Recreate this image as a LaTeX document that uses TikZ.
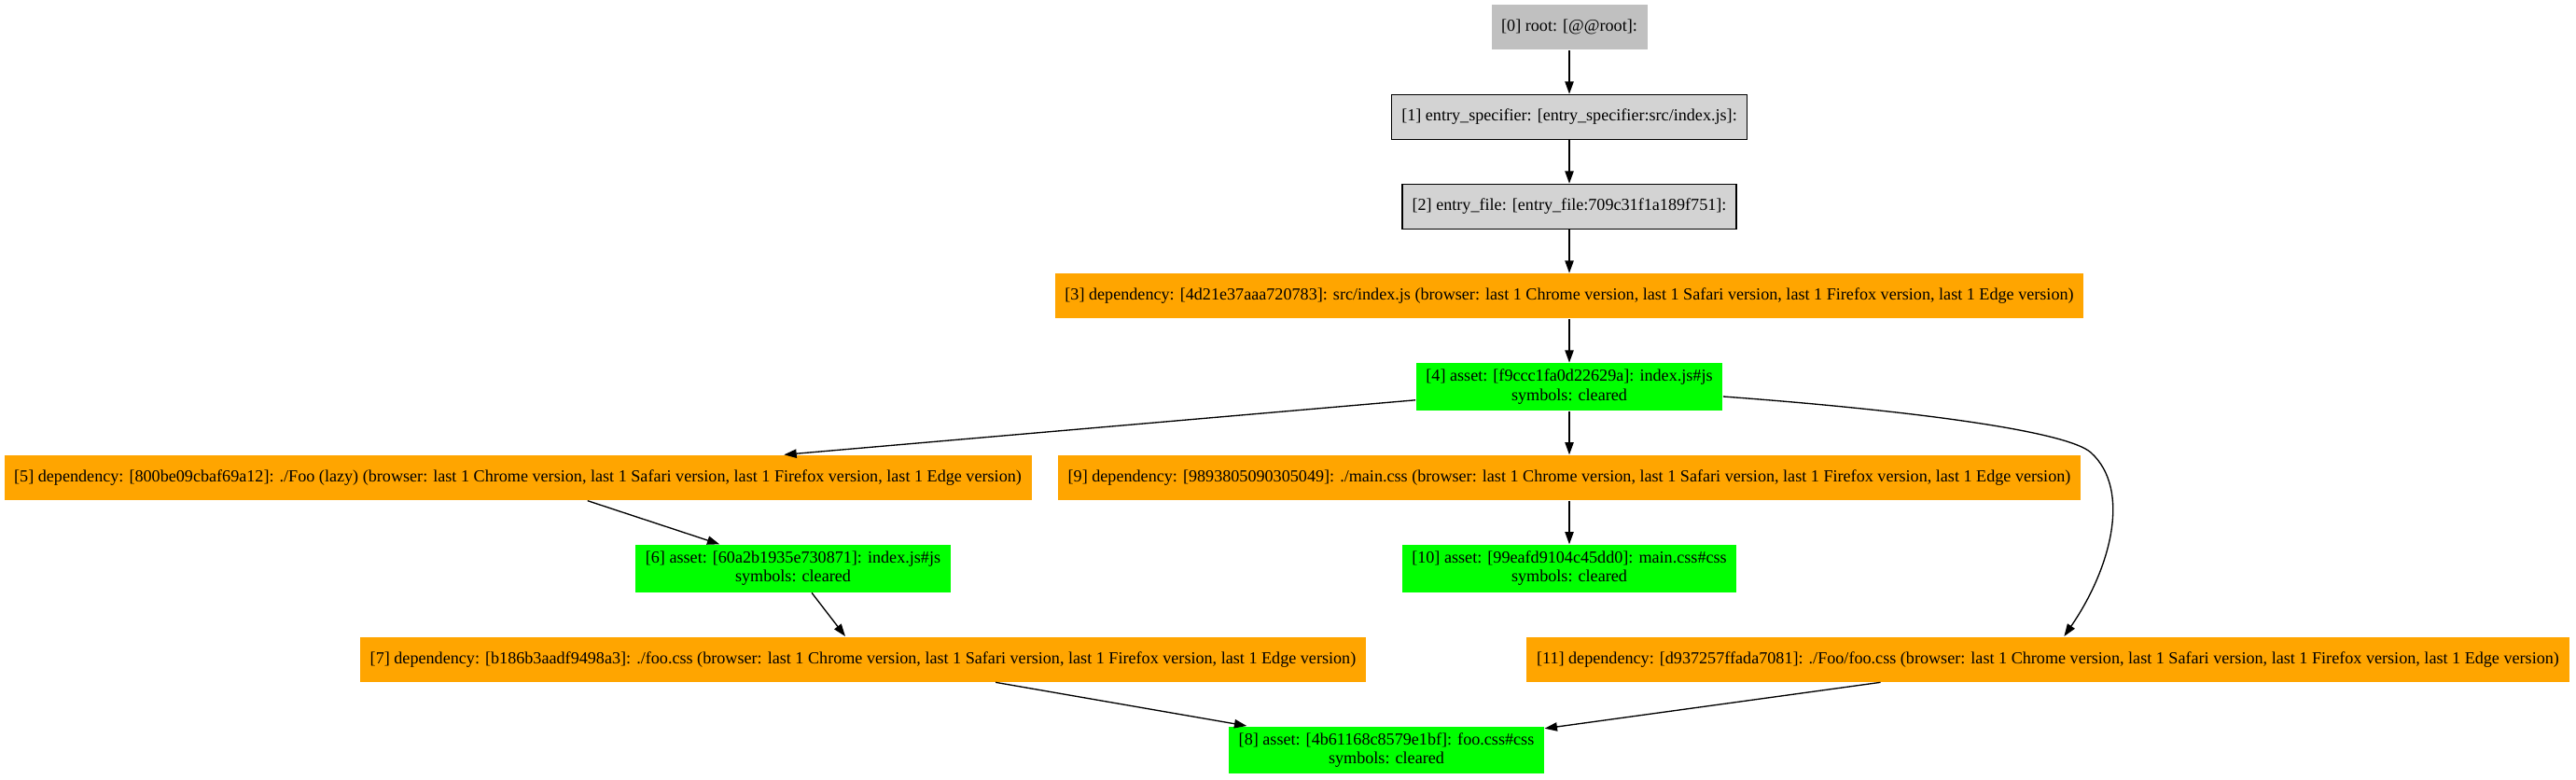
\documentclass[tikz,border=0pt]{standalone}
\usepackage{fontspec}
\setmainfont{Liberation Serif}
\usetikzlibrary{arrows.meta}
\definecolor{gvgray}{HTML}{C0C0C0}
\definecolor{gvlight}{HTML}{D3D3D3}
\definecolor{gvorange}{HTML}{FFA500}
\definecolor{gvgreen}{HTML}{00FF00}
\begin{document}
\begin{tikzpicture}[x=1pt,y=-1pt,
  gvnode/.style={inner xsep=8pt, inner ysep=0pt, minimum height=36pt, align=center,
    font=\fontsize{13.6}{15.2}\selectfont, line width=1pt},
  rootbox/.style={gvnode, fill=gvgray},
  entrybox/.style={gvnode, fill=gvlight, draw=black},
  depbox/.style={gvnode, fill=gvorange},
  assetbox/.style={gvnode, fill=gvgreen, minimum height=38pt},
  conn/.style={line width=1pt, -{Triangle[length=10pt,width=7pt]}}
]
\useasboundingbox (0,0) rectangle (2070.75,626.25);
\node[rootbox] (n0) at (1261.5,22) {[0] root: [@@root]:};
\node[entrybox] (n1) at (1261.5,94) {[1] entry\_specifier: [entry\_specifier:src/index.js]:};
\node[entrybox] (n2) at (1261.5,166) {[2] entry\_file: [entry\_file:709c31f1a189f751]:};
\node[depbox] (n3) at (1261.5,238) {[3] dependency: [4d21e37aaa720783]: src/index.js (browser: last 1 Chrome version, last 1 Safari version, last 1 Firefox version, last 1 Edge version)};
\node[assetbox] (n4) at (1261.5,311) {[4] asset: [f9ccc1fa0d22629a]: index.js\#js\\symbols: cleared};
\node[depbox] (n5) at (416.25,384) {[5] dependency: [800be09cbaf69a12]: ./Foo (lazy) (browser: last 1 Chrome version, last 1 Safari version, last 1 Firefox version, last 1 Edge version)};
\node[depbox] (n9) at (1261.5,384) {[9] dependency: [9893805090305049]: ./main.css (browser: last 1 Chrome version, last 1 Safari version, last 1 Firefox version, last 1 Edge version)};
\node[assetbox] (n6) at (637.5,457) {[6] asset: [60a2b1935e730871]: index.js\#js\\symbols: cleared};
\node[assetbox] (n10) at (1261.5,457) {[10] asset: [99eafd9104c45dd0]: main.css\#css\\symbols: cleared};
\node[depbox] (n7) at (693.75,530) {[7] dependency: [b186b3aadf9498a3]: ./foo.css (browser: last 1 Chrome version, last 1 Safari version, last 1 Firefox version, last 1 Edge version)};
\node[depbox] (n11) at (1646.25,530) {[11] dependency: [d937257ffada7081]: ./Foo/foo.css (browser: last 1 Chrome version, last 1 Safari version, last 1 Firefox version, last 1 Edge version)};
\node[assetbox] (n8) at (1114.5,603) {[8] asset: [4b61168c8579e1bf]: foo.css\#css\\symbols: cleared};
\coordinate (bend) at (1680.75,363.75);
\draw[conn] (n0) -- (n1);
\draw[conn] (n1) -- (n2);
\draw[conn] (n2) -- (n3);
\draw[conn] (n3) -- (n4);
\draw[conn] (n4) -- (n5);
\draw[conn] (n4) -- (n9);
\draw[conn] ([yshift=-7.75pt]n4.east) .. controls (1537.5,330) and (1661.25,346.5) .. (bend)
  .. controls (1713.75,393.75) and (1696.5,457.5) .. ([xshift=13pt]n11.north);
\draw[conn] (n5) -- (n6);
\draw[conn] (n6) -- (n7);
\draw[conn] (n9) -- (n10);
\draw[conn] (n7) -- (n8);
\draw[conn] (n11) -- (n8);
\end{tikzpicture}
\end{document}
